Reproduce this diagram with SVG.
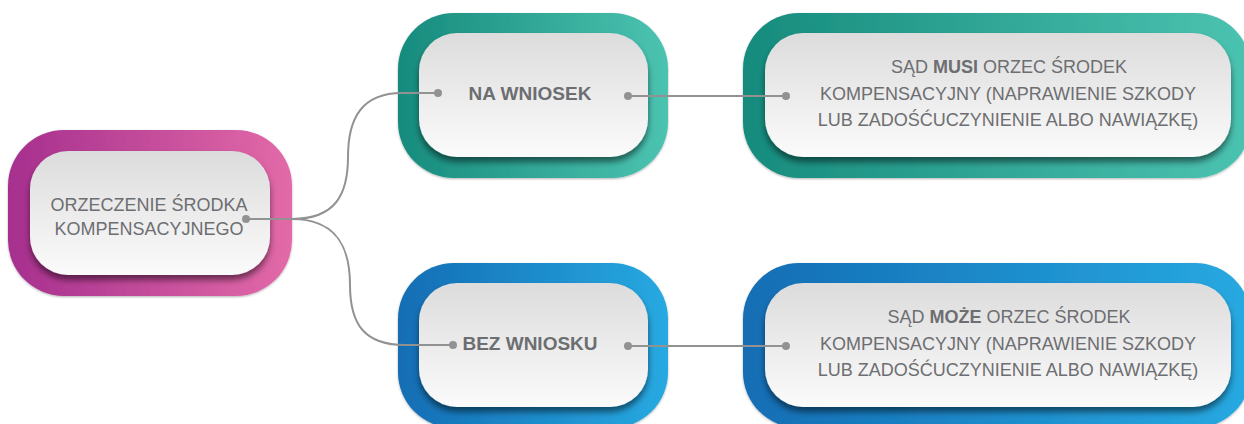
<svg xmlns="http://www.w3.org/2000/svg" width="1244" height="424" viewBox="0 0 1244 424">
  <style>
    .txt { font-family: "Liberation Sans", Arial, sans-serif; font-size: 18px; fill: #6d6e71; text-anchor: middle; }
    .b { font-weight: bold; }
    .big { font-size: 19px; }
    .inner { fill: url(#gWhite); filter: url(#shInner); }
    .conn { fill: none; stroke: #929292; stroke-width: 2; }
    .dot { fill: #929292; }
  </style>
  <defs>
    <linearGradient id="gMag" x1="0" y1="0" x2="1" y2="0">
      <stop offset="0" stop-color="#a62f8e"/>
      <stop offset="1" stop-color="#e36aa8"/>
    </linearGradient>
    <linearGradient id="gTeal" x1="0" y1="0" x2="1" y2="0">
      <stop offset="0" stop-color="#168b7d"/>
      <stop offset="1" stop-color="#4cc3b1"/>
    </linearGradient>
    <linearGradient id="gBlue" x1="0" y1="0" x2="1" y2="0">
      <stop offset="0" stop-color="#136db4"/>
      <stop offset="1" stop-color="#27a9e1"/>
    </linearGradient>
    <linearGradient id="gWhite" x1="0" y1="0" x2="0" y2="1">
      <stop offset="0" stop-color="#dcdcdc"/>
      <stop offset="1" stop-color="#fbfbfb"/>
    </linearGradient>
    <filter id="shInner" x="-10%" y="-10%" width="120%" height="130%">
      <feGaussianBlur in="SourceAlpha" stdDeviation="3"/>
      <feOffset dx="0" dy="5" result="b"/>
      <feFlood flood-color="#000" flood-opacity="0.5"/>
      <feComposite in2="b" operator="in" result="s"/>
      <feMerge><feMergeNode in="s"/><feMergeNode in="SourceGraphic"/></feMerge>
    </filter>
    <filter id="shOuter" x="-10%" y="-10%" width="120%" height="130%">
      <feGaussianBlur in="SourceAlpha" stdDeviation="1"/>
      <feOffset dx="0" dy="1" result="b"/>
      <feFlood flood-color="#000" flood-opacity="0.3"/>
      <feComposite in2="b" operator="in" result="s"/>
      <feMerge><feMergeNode in="s"/><feMergeNode in="SourceGraphic"/></feMerge>
    </filter>
  </defs>
  <rect width="1244" height="424" fill="#ffffff"/>

  <g id="node-root">
    <rect x="8" y="130" width="284" height="166" rx="56" fill="url(#gMag)" filter="url(#shOuter)"/>
    <rect class="inner" x="30" y="151" width="240" height="124" rx="38"/>
    <text class="txt" x="149" y="211">ORZECZENIE ŚRODKA</text>
    <text class="txt" x="149" y="235">KOMPENSACYJNEGO</text>
  </g>

  <g id="node-na-wniosek">
    <rect x="398" y="13" width="270" height="165" rx="56" fill="url(#gTeal)" filter="url(#shOuter)"/>
    <rect class="inner" x="419" y="33" width="229" height="124" rx="38"/>
    <text class="txt b big" x="530" y="100">NA WNIOSEK</text>
  </g>

  <g id="node-musi">
    <rect x="743" y="13" width="508" height="165" rx="56" fill="url(#gTeal)" filter="url(#shOuter)"/>
    <rect class="inner" x="765" y="33" width="466" height="124" rx="38"/>
    <text class="txt" x="1009" y="73">SĄD <tspan class="b">MUSI</tspan> ORZEC ŚRODEK</text>
    <text class="txt" x="1008" y="100">KOMPENSACYJNY (NAPRAWIENIE SZKODY</text>
    <text class="txt" x="1008" y="126">LUB ZADOŚĆUCZYNIENIE ALBO NAWIĄZKĘ)</text>
  </g>

  <g id="node-bez-wniosku">
    <rect x="398" y="263" width="270" height="165" rx="56" fill="url(#gBlue)" filter="url(#shOuter)"/>
    <rect class="inner" x="419" y="283" width="229" height="124" rx="38"/>
    <text class="txt b big" x="530" y="350">BEZ WNIOSKU</text>
  </g>

  <g id="node-moze">
    <rect x="743" y="263" width="508" height="165" rx="56" fill="url(#gBlue)" filter="url(#shOuter)"/>
    <rect class="inner" x="765" y="283" width="466" height="124" rx="38"/>
    <text class="txt" x="1009" y="323">SĄD <tspan class="b">MOŻE</tspan> ORZEC ŚRODEK</text>
    <text class="txt" x="1008" y="350">KOMPENSACYJNY (NAPRAWIENIE SZKODY</text>
    <text class="txt" x="1008" y="376">LUB ZADOŚĆUCZYNIENIE ALBO NAWIĄZKĘ)</text>
  </g>

  <g id="connectors">
    <path class="conn" d="M246,219 L292,219 C335,219 348,195 348,157 C348,118 362,93 402,93 L438,93"/>
    <path class="conn" d="M292,219 C335,219 350,245 350,285 C350,325 365,345 405,345 L453,345"/>
    <path class="conn" d="M628,96 L786,96"/>
    <path class="conn" d="M628,346 L786,346"/>
    <circle class="dot" cx="246" cy="219" r="4"/>
    <circle class="dot" cx="438" cy="93" r="4"/>
    <circle class="dot" cx="453" cy="345" r="4"/>
    <circle class="dot" cx="628" cy="96" r="4"/>
    <circle class="dot" cx="786" cy="96" r="4"/>
    <circle class="dot" cx="628" cy="346" r="4"/>
    <circle class="dot" cx="786" cy="346" r="4"/>
  </g>
</svg>
